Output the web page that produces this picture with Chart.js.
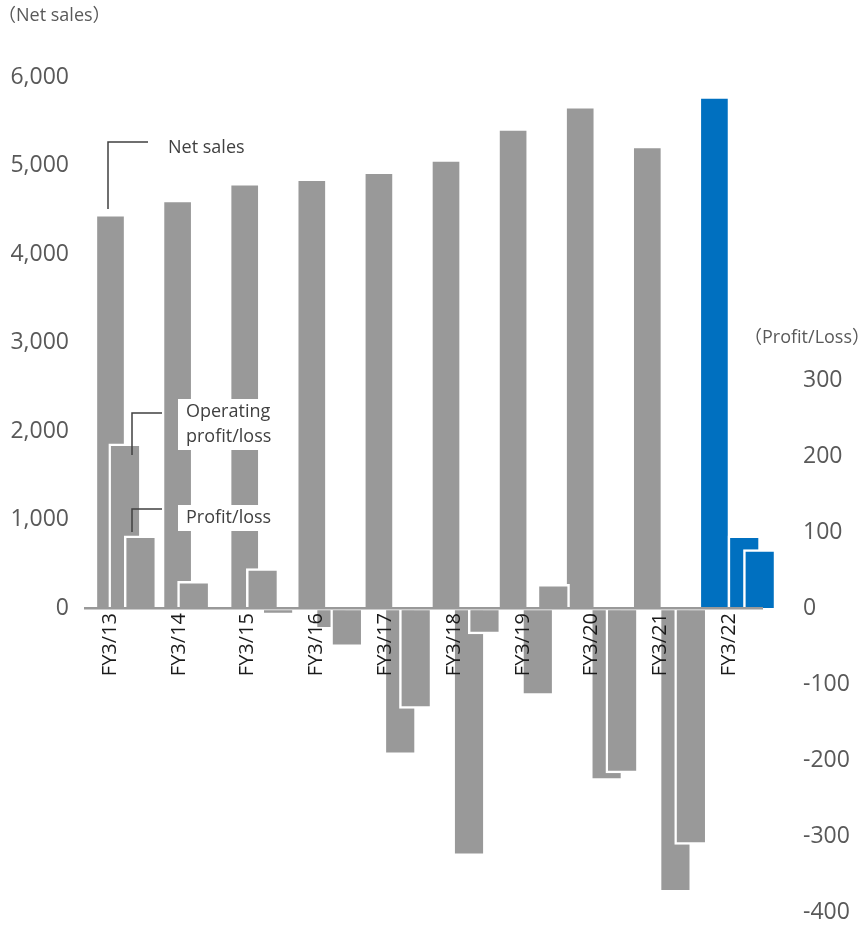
<!DOCTYPE html>
<html>
<head>
<meta charset="utf-8">
<script src="https://cdn.jsdelivr.net/npm/chart.js@4.4.1/dist/chart.umd.min.js"></script>
<style>
    html, body { margin: 0; padding: 0; background: #fff; }
    #wrap { width: 862px; height: 926px; }
</style>
</head>
<body>
<div id="wrap"><canvas id="resultChart" width="862" height="926"></canvas></div>
<script>
// Fiscal years and results
const categories = ['FY3/13', 'FY3/14', 'FY3/15', 'FY3/16', 'FY3/17', 'FY3/18', 'FY3/19', 'FY3/20', 'FY3/21', 'FY3/22'];
const netSales = [4420, 4580, 4770, 4820, 4900, 5040, 5390, 5640, 5190, 5750];
const operatingProfit = [216, 35, 52, -28, -193, -326, -115, -227, -374, 95];
const profitLoss = [95, 1, -9, -51, -132, -34, 31, -217, -311, 77];

// Tick values shown on each side
const salesTicks = [0, 1000, 2000, 3000, 4000, 5000, 6000];
const profitTicks = [-400, -300, -200, -100, 0, 100, 200, 300];

// Axis ranges (both zero lines meet)
const salesRange = [-3435, 6000];
const profitRange = [-400, 698.7];

const GRAY = '#999999';
const BLUE = '#0070C0';
const FONT = '"Open Sans", "Noto Sans CJK JP", sans-serif';

// last year is highlighted
const barColors = categories.map((c, i) => i === categories.length - 1 ? BLUE : GRAY);
const points = vals => vals.map((v, i) => ({ x: i, y: v }));

// hidden x axes, one per series, so the three bars can overlap a little
const hiddenX = (min, max) => ({ type: 'linear', display: false, offset: false, bounds: 'data', min, max });

// fixed axis width; the wide tick padding must not eat into the plot height
const fixWidth = w => s => { s.width = w; s.paddingTop = 0; s.paddingBottom = 0; };

// white-bordered bars: the base edge is left open on positive bars
const profitBar = {
    grouped: false,
    barThickness: 32.5,
    borderWidth: 2.5,
    borderColor: '#ffffff',
    borderSkipped: c => (c.raw && c.raw.y < 0) ? false : 'start',
    backgroundColor: barColors,
    clip: false
};

function callout(ctx, lines, x, y, lineGap, path) {
    ctx.font = '18px ' + FONT;
    const w = Math.max(...lines.map(t => ctx.measureText(t).width));
    ctx.fillStyle = '#ffffff';
    ctx.fillRect(x - 8, y - 13, w + 16, (lines.length - 1) * lineGap + 26);
    ctx.fillStyle = '#404040';
    ctx.textAlign = 'left';
    ctx.textBaseline = 'middle';
    lines.forEach((t, i) => ctx.fillText(t, x, y + i * lineGap));

    ctx.strokeStyle = '#404040';
    ctx.lineWidth = 1.5;
    ctx.beginPath();
    path.forEach((p, i) => i ? ctx.lineTo(p[0], p[1]) : ctx.moveTo(p[0], p[1]));
    ctx.stroke();
}

// axis captions and the series callouts
const notesPlugin = {
    id: 'notes',
    afterDraw(chart) {
        const ctx = chart.ctx;
        ctx.save();
        ctx.font = '18px ' + FONT;
        ctx.fillStyle = '#595959';
        ctx.textBaseline = 'middle';
        ctx.textAlign = 'left';
        ctx.fillText('（Net sales）', -2, 16);
        ctx.fillText('（Profit/Loss）', 744, 338);

        callout(ctx, ['Net sales'], 168, 148, 0, [[148, 142], [108, 142], [108, 209]]);
        callout(ctx, ['Operating', 'profit/loss'], 186, 412, 25, [[162, 413], [132, 413], [132, 455]]);
        callout(ctx, ['Profit/loss'], 186, 518, 0, [[162, 509], [132, 509], [132, 532]]);
        ctx.restore();
    }
};

new Chart(document.getElementById('resultChart'), {
    type: 'bar',
    data: {
        datasets: [
            Object.assign({ label: 'Profit/loss', data: points(profitLoss), xAxisID: 'xPF', yAxisID: 'yPL', order: 1 }, profitBar),
            Object.assign({ label: 'Operating profit/loss', data: points(operatingProfit), xAxisID: 'xOP', yAxisID: 'yPL', order: 2 }, profitBar),
            {
                label: 'Net sales',
                data: points(netSales),
                xAxisID: 'xNS',
                yAxisID: 'yNS',
                order: 3,
                grouped: false,
                barThickness: 26,
                backgroundColor: barColors,
                borderWidth: 0,
                clip: false
            }
        ]
    },
    options: {
        responsive: false,
        animation: false,
        layout: { padding: { top: 77, bottom: 14, left: 0, right: 0 } },
        plugins: { legend: { display: false }, tooltip: { enabled: false } },
        scales: {
            // year labels hang just below the zero line
            x: {
                type: 'linear',
                offset: false,
                bounds: 'data',
                position: { yNS: 0 },
                min: -0.378,
                max: 9.491,
                afterBuildTicks: s => { s.ticks = categories.map((c, i) => ({ value: i })); },
                grid: { display: false, drawTicks: false },
                border: { display: false },
                ticks: {
                    z: 1,
                    autoSkip: false,
                    minRotation: 90,
                    maxRotation: 90,
                    padding: 5,
                    color: '#1a1a1a',
                    font: { family: FONT, size: 20 },
                    callback: v => categories[v]
                }
            },
            xNS: hiddenX(-0.395, 9.724),
            xOP: hiddenX(-0.596, 9.273),
            xPF: hiddenX(-0.821, 9.048),
            yNS: {
                position: 'left',
                bounds: 'data',
                min: salesRange[0],
                max: salesRange[1],
                afterBuildTicks: s => { s.ticks = salesTicks.map(v => ({ value: v })); },
                afterFit: fixWidth(84),
                border: { display: false },
                grid: {
                    z: 1,
                    drawTicks: false,
                    lineWidth: 2.5,
                    color: c => (c.tick && c.tick.value === 0) ? GRAY : 'rgba(0,0,0,0)'
                },
                ticks: {
                    padding: 15,
                    color: '#595959',
                    font: { family: FONT, size: 23 },
                    callback: v => v.toLocaleString('en-US')
                }
            },
            yPL: {
                position: 'right',
                bounds: 'data',
                min: profitRange[0],
                max: profitRange[1],
                afterBuildTicks: s => { s.ticks = profitTicks.map(v => ({ value: v })); },
                afterFit: fixWidth(99),
                border: { display: false },
                grid: { display: false, drawTicks: false },
                ticks: {
                    padding: 40,
                    color: '#595959',
                    font: { family: FONT, size: 23 },
                    callback: v => v
                }
            }
        }
    },
    plugins: [notesPlugin]
});
</script>
</body>
</html>
